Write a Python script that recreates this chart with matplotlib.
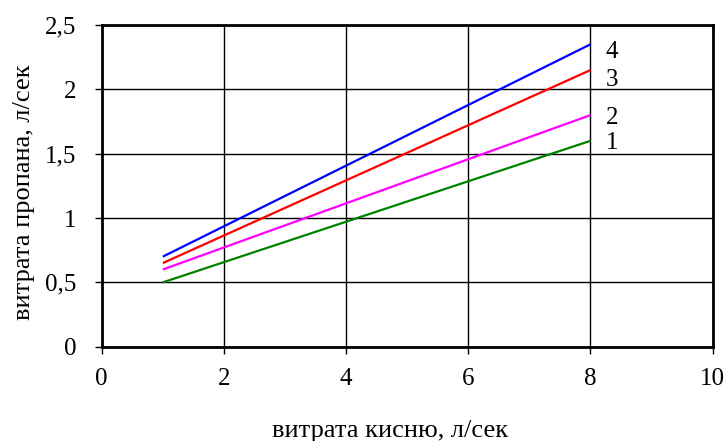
import matplotlib
matplotlib.use('Agg')
import matplotlib.pyplot as plt
from matplotlib.ticker import FuncFormatter

plt.rcParams['font.family'] = ['Liberation Serif', 'DejaVu Serif']

# дані: витрата кисню (x) та витрата пропану (y) для кривих 1-4
x_kysen = [1, 8]
curve_labels = ['1', '2', '3', '4']
y_curves = [
    [0.5, 1.6],
    [0.6, 1.8],
    [0.65, 2.15],
    [0.7, 2.35],
]
colors = ['#008000', '#FF00FF', '#FF0000', '#0000FF']
label_y = [1.58, 1.78, 2.07, 2.29]

fig = plt.figure(figsize=(7.27, 4.41), dpi=100)
ax = fig.add_axes([0.1399, 0.2138, 0.8404, 0.7295])

for y, c in zip(y_curves, colors):
    ax.plot(x_kysen, y, color=c, linewidth=1.6, solid_capstyle='butt')

for lbl, ly in zip(curve_labels, label_y):
    ax.text(8.25, ly, lbl, fontsize=18, va='center', ha='left')

ax.set_xlim(0, 10)
ax.set_ylim(0, 2.5)
ax.set_xticks([0, 2, 4, 6, 8, 10])
ax.set_yticks([0, 0.5, 1, 1.5, 2, 2.5])

fmt = FuncFormatter(lambda v, p: ('%g' % v).replace('.', ','))
ax.xaxis.set_major_formatter(fmt)
ax.yaxis.set_major_formatter(fmt)

ax.grid(True, color='black', linewidth=1.0)
ax.set_axisbelow(True)
for s in ax.spines.values():
    s.set_linewidth(2.0)
    s.set_color('black')

ax.tick_params(direction='out', length=5, width=1, labelsize=18)
ax.tick_params(axis='x', pad=10)
ax.tick_params(axis='y', pad=13)

ax.set_xlabel('витрата кисню, л/сек', fontsize=19, va='center')
ax.xaxis.set_label_coords(0.472, -0.262)
ax.set_ylabel('витрата пропана, л/сек', fontsize=19, va='center')
ax.yaxis.set_label_coords(-0.128, 0.48)

fig.savefig('out.png', dpi=100)
